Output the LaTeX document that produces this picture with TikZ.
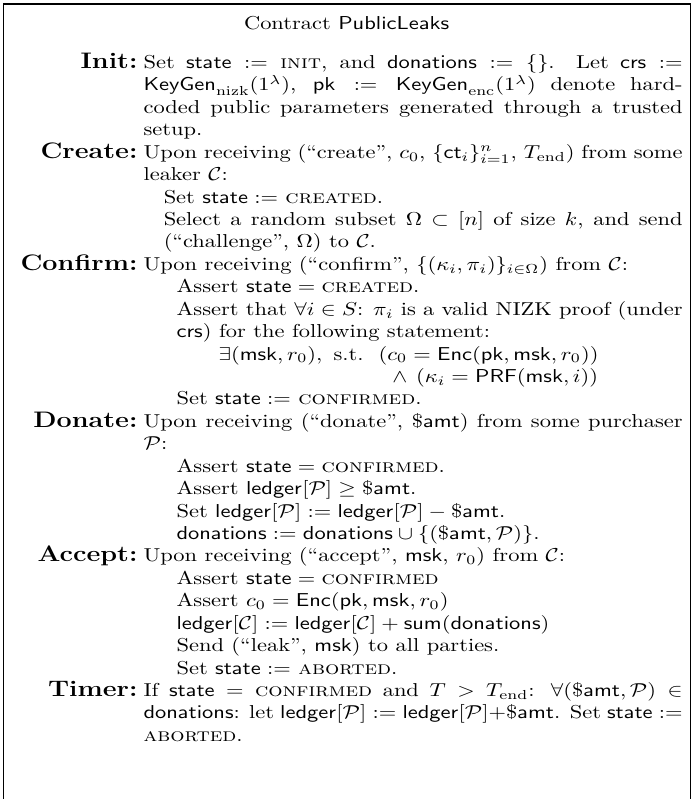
\documentclass[tikz,border=0pt]{standalone}
\usepackage{amsmath,amssymb}
\usepackage{tikz}
\usetikzlibrary{positioning}
\newcommand{\vstate}{\mathsf{state}}
\newcommand{\don}{\mathsf{donations}}
\newcommand{\ledger}{\mathsf{ledger}}
\newcommand{\msk}{\mathsf{msk}}
\newcommand{\pk}{\mathsf{pk}}
\newcommand{\crs}{\mathsf{crs}}
\newcommand{\Enc}{\mathsf{Enc}}
\newcommand{\PRF}{\mathsf{PRF}}
\newcommand{\KeyGen}{\mathsf{KeyGen}}
\newcommand{\amt}{\$\mathsf{amt}}
\newcommand{\Tend}{T_{\mathrm{end}}}
\newcommand{\Leaker}{\mathcal{C}}
\newcommand{\Buyer}{\mathcal{P}}
\newcommand{\steps}[2]{{\leftskip=#1\relax #2\par}}

\begin{document}
\begin{tikzpicture}[
  body/.style={anchor=base west, inner sep=0pt, text width=240pt, align=justify},
  lbl/.style={font=\large\bfseries, inner sep=0pt},
  frame/.style={line width=0.5pt}
]
  \useasboundingbox (0pt,0pt) rectangle (309.4pt,-355.7pt);
  % Frame, open at the bottom
  \draw[frame] (1.5pt,-355.7pt) |- (307.2pt,-1.8pt) -- (307.2pt,-355.7pt);

  \begin{scope}[yscale=0.832, transform shape]
  \node[anchor=base, inner sep=0pt] (title) at (154.3pt,-15.6pt)
    {Contract \textsf{PublicLeaks}};

  % Init
  \node[body] (init) at (63.7pt,-36.66pt)
    {Set $\vstate := \textsc{init}$, and $\don := \{\}$.  Let $\crs :=$\linebreak{}
     $\KeyGen_{\mathrm{nizk}}(1^\lambda)$, $\pk := \KeyGen_{\mathrm{enc}}(1^\lambda)$ denote hard-\linebreak{}coded
     public parameters generated through a trusted\linebreak{} setup.};
  \node[lbl, base left=2.3pt of init] (initl) {Init:};

  % Create
  \node[body] (create) at (63.7pt,-84.66pt)
    {Upon receiving (``create'', $c_0$, $\{\mathsf{ct}_i\}_{i=1}^n$, $\Tend$) from some\linebreak{}
     leaker $\Leaker$:\par
     \steps{9pt}{Set $\vstate :=$ \textsc{created}.\par
       Select a random subset $\Omega \subset [n]$ of size $k$, and send\linebreak{}
       (``challenge'', $\Omega$) to $\Leaker$.}};
  \node[lbl, base left=2.3pt of create] (createl) {Create:};

  % Confirm
  \node[body] (confirm) at (63.7pt,-144.66pt)
    {Upon receiving (``confirm'', $\{(\kappa_i, \pi_i)\}_{i\in\Omega}$) from $\Leaker$:\par
     \steps{14.7pt}{Assert $\vstate = \textsc{created}$.\par
       Assert that $\forall i \in S$: $\pi_i$ is a valid NIZK proof (under\linebreak{}
       $\crs$) for the following statement:\par
       \hspace*{18.7pt}$\exists(\msk, r_0),~ \text{s.t.}~~ (c_0 = \Enc(\pk, \msk, r_0))$\par
       \hspace*{18.7pt}$\phantom{\exists(\msk, r_0),~ \text{s.t.}~~ (}\wedge\,(\kappa_i = \PRF(\msk, i))$\par
       Set $\vstate :=$ \textsc{confirmed}.}};
  \node[lbl, base left=2.3pt of confirm] (confirml) {Confirm:};

  % Donate
  \node[body] (donate) at (63.7pt,-228.66pt)
    {Upon receiving (``donate'', $\amt$) from some purchaser\linebreak{} $\Buyer$:\par
     \steps{14.7pt}{Assert $\vstate = \textsc{confirmed}$.\par
       Assert $\ledger[\Buyer] \geq \amt$.\par
       Set $\ledger[\Buyer] := \ledger[\Buyer] - \amt$.\par
       $\don := \don \cup \{(\amt, \Buyer)\}$.}};
  \node[lbl, base left=2.3pt of donate] (donatel) {Donate:};

  % Accept
  \node[body] (accept) at (63.7pt,-300.66pt)
    {Upon receiving (``accept'', $\msk$, $r_0$) from $\Leaker$:\par
     \steps{14.7pt}{Assert $\vstate = \textsc{confirmed}$\par
       Assert $c_0 = \Enc(\pk, \msk, r_0)$\par
       $\ledger[\Leaker] := \ledger[\Leaker] + \mathsf{sum}(\don)$\par
       Send (``leak'', $\msk$) to all parties.\par
       Set $\vstate :=$ \textsc{aborted}.}};
  \node[lbl, base left=2.3pt of accept] (acceptl) {Accept:};

  % Timer
  \node[body] (timer) at (63.7pt,-372.66pt)
    {If $\vstate = \textsc{confirmed}$ and $T > \Tend$: $\forall(\amt, \Buyer) \in$\linebreak{}
     $\don$: let $\ledger[\Buyer] := \ledger[\Buyer]{+}\amt$. Set $\vstate :=$\linebreak{}
     \textsc{aborted}.};
  \node[lbl, base left=2.3pt of timer] (timerl) {Timer:};
  \end{scope}
\end{tikzpicture}
\end{document}
